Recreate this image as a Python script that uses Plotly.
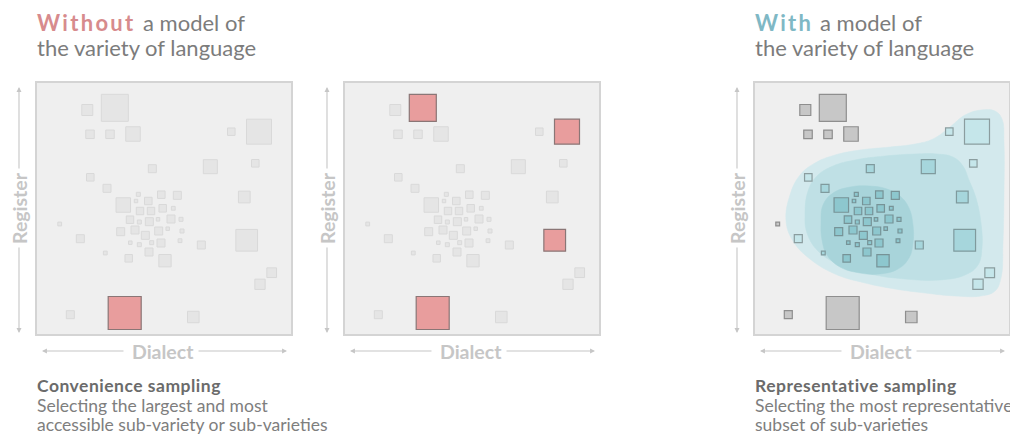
import plotly.graph_objects as go

# page is shown with the browser's 8px body margin; work in page pixels and convert
PAGE_OFF = 8
W, H = 1010, 427

# ---- data: sub-varieties (centre x, centre y, size) in panel units ----
sq_x = [50.3, 77.8, 53, 73, 96, 194.3, 222, 115.3, 173.3, 218.3, 53.3, 70, 86.3, 101.3, 99,
        111.3, 124.3, 140.3, 103, 114, 125.7, 136.3, 93, 102.3, 112.3, 121, 134, 144, 22.7,
        43.3, 83.7, 98, 108.3, 121.7, 130.7, 145, 93.3, 102.3, 114.7, 124, 143, 164.3, 68.3,
        91.7, 112, 128, 209.7, 207.3, 234.7, 223, 33.3, 156.3, 87.7]
sq_y = [27, 24.8, 51.3, 51.3, 51, 48.7, 48.7, 85.7, 83.7, 80.3, 94.3, 105.3, 122, 111.3, 118,
        118, 111.7, 112.3, 128, 128, 125.3, 125.3, 136.7, 139, 138.7, 136.3, 136, 136.3, 141,
        155.7, 148.7, 147, 152.3, 148, 145.7, 148, 159.7, 161.7, 159.7, 160, 157.7, 162, 170,
        175.3, 169, 177.7, 157.3, 114, 189.7, 201.3, 231.7, 234, 230]
sq_size = [11, 27, 8.5, 8.5, 14.5, 7.5, 25, 8, 14, 7.5, 7.5, 8, 14.5, 4, 3.5,
           7.5, 7.5, 8, 7.5, 7.5, 7.5, 3.8, 7.5, 4, 8, 3.5, 8, 4, 3.8,
           8, 8, 8, 8, 8, 3.5, 4, 3.5, 4, 4, 8, 3.8, 8, 3.8,
           7.5, 8, 12.3, 21.7, 11.7, 9.7, 10.3, 8, 11.5, 33]
# density zone of each sub-variety in the "with a model" panel (0 = outside)
zone = [0, 0, 0, 0, 0, 1, 1, 2, 2, 1, 1, 2, 3, 3, 3,
        3, 3, 3, 3, 3, 3, 3, 3, 3, 3, 3, 3, 3, 0,
        1, 3, 3, 3, 3, 3, 3, 3, 3, 3, 3, 3, 2, 2,
        3, 3, 3, 2, 2, 1, 1, 0, 0, 0]
highlight_panel1 = [52]
highlight_panel2 = [1, 6, 46, 52]

# ---- data: density contours of the variety model ----
outer_x = [31, 35, 45, 60, 80, 105, 135, 160, 178, 195, 210, 226, 240, 247, 249, 249, 248, 246,
           240, 226, 200, 170, 140, 110, 80, 55, 38, 31]
outer_y = [138, 112, 92, 80, 72, 67, 64, 61, 56, 44, 32, 27, 28, 36, 60, 110, 160, 195,
           208, 213, 213, 210, 206, 200, 191, 176, 158, 138]
middle_x = [50, 53, 62, 78, 100, 130, 160, 182, 198, 208, 214, 221, 226, 227, 223, 210, 185, 150,
            115, 85, 63, 52, 50]
middle_y = [132, 108, 93, 83, 77, 73, 71, 71, 74, 83, 97, 115, 140, 165, 182, 192, 197, 196,
            191, 182, 168, 150, 132]
inner_x = [66, 68, 78, 95, 115, 132, 145, 154, 158, 158, 154, 143, 125, 105, 85, 72, 67, 66]
inner_y = [140, 122, 110, 104, 103, 106, 113, 125, 142, 160, 175, 186, 191, 190, 184, 172, 157, 140]

# ---- layout geometry (page pixels) ----
panel_left = [37, 345, 755]
panel_top = 83
panel_w, panel_h = 254, 251
FONT = "Lato"


def P(x):
    return (x - PAGE_OFF) / W


def Q(y):
    return 1 - (y - PAGE_OFF) / H


fig = go.Figure()

zone_fill = ["#c7c7c7", "#c5e6ea", "#a6d6dc", "#8dc7ce"]
zone_line = ["#8e8e8e", "#8b9d9f", "#7f9a9d", "#779397"]

for p in range(3):
    xa = "x" if p == 0 else f"x{p+1}"
    ya = "y" if p == 0 else f"y{p+1}"
    if p < 2:
        hl = highlight_panel1 if p == 0 else highlight_panel2
        idx = [i for i in range(len(sq_x)) if i not in hl]
        fig.add_trace(go.Scatter(
            x=[sq_x[i] for i in idx], y=[sq_y[i] for i in idx], mode="markers",
            marker=dict(symbol="square", size=[sq_size[i] for i in idx], color="#e5e5e5",
                        opacity=1, line=dict(color="#d9d9d9", width=1)),
            xaxis=xa, yaxis=ya, hoverinfo="skip"))
        fig.add_trace(go.Scatter(
            x=[sq_x[i] for i in hl], y=[sq_y[i] for i in hl], mode="markers",
            marker=dict(symbol="square", size=[sq_size[i] for i in hl], color="#e89d9d",
                        opacity=1, line=dict(color="#8a7676", width=1.2)),
            xaxis=xa, yaxis=ya, hoverinfo="skip"))
    else:
        for bx, by, col in [(outer_x, outer_y, "#d3e9ed"), (middle_x, middle_y, "#bfe0e5"),
                            (inner_x, inner_y, "#a8d4da")]:
            fig.add_trace(go.Scatter(
                x=bx, y=by, mode="lines", fill="toself", fillcolor=col,
                line=dict(color=col, width=0.5, shape="spline", smoothing=1.2),
                xaxis=xa, yaxis=ya, hoverinfo="skip"))
        fig.add_trace(go.Scatter(
            x=sq_x, y=sq_y, mode="markers",
            marker=dict(symbol="square", size=sq_size, opacity=1,
                        color=[zone_fill[z] for z in zone],
                        line=dict(color=[zone_line[z] for z in zone], width=1.2)),
            xaxis=xa, yaxis=ya, hoverinfo="skip"))

axis_common = dict(showgrid=False, zeroline=False, showticklabels=False, ticks="",
                   showline=True, mirror=True, linecolor="#d4d4d4", linewidth=2,
                   fixedrange=True)
layout = dict(width=W, height=H, margin=dict(l=0, r=0, t=0, b=0, autoexpand=False),
              paper_bgcolor="white", plot_bgcolor="#efefef", showlegend=False,
              font=dict(family=FONT))
for p in range(3):
    sx = "" if p == 0 else str(p + 1)
    layout["xaxis" + sx] = dict(domain=[P(panel_left[p]), P(panel_left[p] + panel_w)],
                                range=[0, panel_w], anchor="y" + sx, **axis_common)
    layout["yaxis" + sx] = dict(domain=[Q(panel_top + panel_h), Q(panel_top)],
                                range=[panel_h, 0], anchor="x" + sx, **axis_common)
fig.update_layout(**layout)

ann = []


def text_line(x, baseline, txt, size, color):
    ann.append(dict(x=P(x - 1), y=Q(baseline - 1.0 * size), xref="paper", yref="paper",
                    xanchor="left", yanchor="top", align="left", showarrow=False,
                    borderpad=0, text=txt,
                    font=dict(family=FONT, size=size, color=color)))


def heavy(txt, spacing):
    return f"<b><span style='letter-spacing:{spacing}px'>{txt}</span></b>"


TITLE_GRAY = "#7c7c7c"
# titles
text_line(37, 30, heavy("Without", 2.3), 22, "#d78b8d")
text_line(143, 30, "a model of", 22, TITLE_GRAY)
text_line(37, 55, "the variety of language", 22, TITLE_GRAY)
text_line(755, 30, heavy("With", 2.2), 22, "#7fb8c5")
text_line(820, 30, "a model of", 22, TITLE_GRAY)
text_line(755, 55, "the variety of language", 22, TITLE_GRAY)
# captions
CAP_BOLD, CAP_REG = "#6b6b6b", "#7e7e7e"
text_line(37, 391.5, heavy("Convenience sampling", 0.5), 17.5, CAP_BOLD)
text_line(37, 411.5, "Selecting the largest and most", 17.5, CAP_REG)
text_line(37, 430.5, "accessible sub-variety or sub-varieties", 17.5, CAP_REG)
text_line(755, 391.5, heavy("Representative sampling", 0.5), 17.5, CAP_BOLD)
text_line(755, 411.5, "Selecting the most representative", 17.5, CAP_REG)
text_line(755, 430.5, "subset of sub-varieties", 17.5, CAP_REG)

AX_COL = "#c6c6c6"


def arrow(tip, tail):
    return dict(x=P(tip[0]), y=Q(tip[1]), xref="paper", yref="paper", text="",
                showarrow=True, ax=tail[0] - tip[0], ay=tail[1] - tip[1],
                arrowhead=2, arrowsize=0.9, arrowwidth=1.1, arrowcolor=AX_COL,
                standoff=0, startstandoff=0)


for p in range(3):
    L = panel_left[p]
    cx = L + 126
    yd = 351
    ann.append(dict(x=P(cx), y=Q(yd), xref="paper", yref="paper", text="<b>Dialect</b>",
                    xanchor="center", yanchor="middle",
                    showarrow=False, font=dict(family=FONT, size=19.5, color=AX_COL)))
    ann.append(arrow((L + 5, yd), (cx - 38, yd)))
    ann.append(arrow((L + panel_w - 4, yd), (cx + 34, yd)))
    xr = L - 18
    cy = 208
    ann.append(dict(x=P(xr), y=Q(cy), xref="paper", yref="paper", text="<b>Register</b>",
                    xanchor="center", yanchor="middle", textangle=-90,
                    showarrow=False, font=dict(family=FONT, size=19.5, color=AX_COL)))
    ann.append(arrow((xr, panel_top + 4), (xr, cy - 38)))
    ann.append(arrow((xr, panel_top + panel_h - 1), (xr, cy + 38)))

fig.update_layout(annotations=ann)
fig.write_html("out.html")
